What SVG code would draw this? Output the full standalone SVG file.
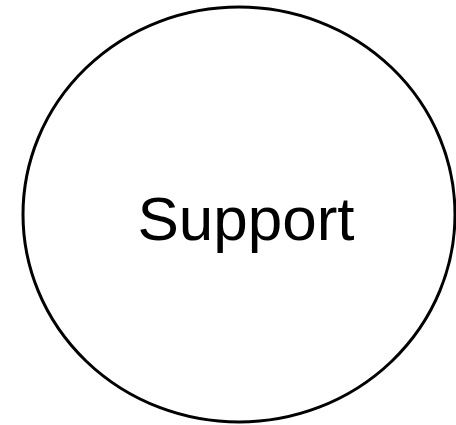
<svg xmlns="http://www.w3.org/2000/svg" width="456" height="425" viewBox="0 0 456 425">
<style>
.node-shape{fill:#ffffff;stroke:#000000;stroke-width:3}
.label{font-family:"Liberation Sans",Arial,sans-serif;font-size:62px;fill:#000000}
</style>
<rect width="456" height="425" fill="#ffffff"/>
<g id="connectors"></g>
<g id="support">
<ellipse class="node-shape" cx="239" cy="214.5" rx="216" ry="207.5"/>
<text class="label" x="246" y="240" text-anchor="middle">Support</text>
</g>
</svg>
